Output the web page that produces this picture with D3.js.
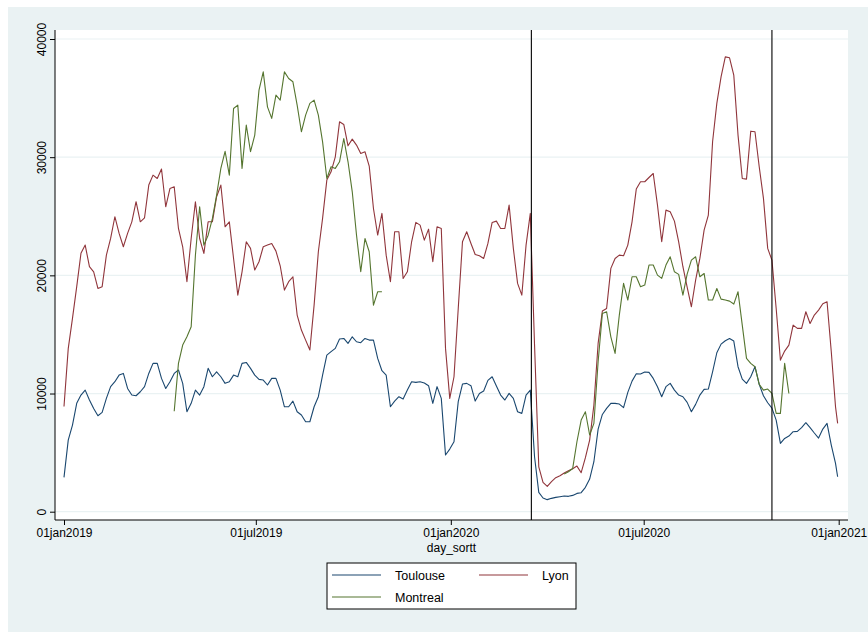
<!DOCTYPE html>
<html>
<head>
<meta charset="utf-8">
<script src="https://cdn.jsdelivr.net/npm/d3@7"></script>
<style>
  html, body { margin: 0; padding: 0; background: #ffffff; }
  svg { display: block; font-family: "Liberation Sans", Arial, Helvetica, sans-serif; }
</style>
</head>
<body>
<svg id="chart" width="868" height="632"></svg>
<script>
// Daily counts, sampled every fourth day from 01jan2019, last value on 31dec2020
const toulouse = [
  2900, 6060, 7330, 9170, 9870, 10290, 9450, 8740, 8120, 8400,
  9590, 10580, 11000, 11560, 11700, 10430, 9870, 9810, 10150, 10580,
  11700, 12550, 12550, 11280, 10430, 11000, 11700, 11990, 10860, 8460,
  9170, 10290, 9870, 10580, 12130, 11420, 11840, 11420, 10860, 11000,
  11560, 11420, 12550, 12630, 12130, 11560, 11200, 11140, 10720, 11280,
  11280, 10290, 8880, 8880, 9360, 8460, 8180, 7610, 7610, 8880,
  9730, 11560, 13250, 13540, 13820, 14610, 14660, 14240, 14800, 14380,
  14300, 14660, 14520, 14520, 12970, 11930, 11560, 8880, 9360, 9730,
  9530, 10290, 11000, 10940, 11000, 10890, 10660, 9170, 10580, 9590,
  4800, 5300, 5920, 9310, 10800, 10860, 10660, 9360, 10010, 10210,
  11110, 11420, 10630, 9870, 9450, 10010, 9590, 8460, 8320, 9870,
  10290, 4650, 1640, 1160, 1020, 1130, 1210, 1270, 1330, 1300,
  1380, 1550, 1610, 2060, 2760, 4230, 6990, 8230, 8740, 9170,
  9170, 9110, 8800, 10100, 11050, 11670, 11650, 11820, 11790, 11280,
  10580, 9730, 10580, 10860, 10290, 9870, 9730, 9250, 8460, 9080,
  9870, 10350, 10380, 11840, 13450, 14180, 14470, 14660, 14440, 12270,
  11220, 10860, 11420, 12270, 10770, 9810, 9220, 8770, 7750, 5780,
  6200, 6400, 6770, 6800, 7110, 7530, 7110, 6660, 6230, 6990,
  7470, 5640, 4090, 2960
];

const lyon = [
  8900, 13800, 16360, 19040, 21860, 22560, 20730, 20300, 18890, 19040,
  21710, 23120, 24960, 23550, 22420, 23550, 24530, 26230, 24530, 24870,
  27640, 28480, 28200, 29000, 25800, 27350, 27500, 23970, 22420, 19460,
  23120, 26230, 23120, 21860, 24530, 24530, 26650, 27640, 24110, 24530,
  21430, 18330, 20300, 22840, 22280, 20450, 21150, 22420, 22560, 22700,
  22050, 20810, 18750, 19460, 19880, 16640, 15370, 14520, 13680, 17480,
  22000, 24820, 28060, 28760, 30030, 32990, 32770, 30960, 31530, 31020,
  30320, 30460, 29250, 25660, 23410, 25240, 21710, 19460, 23690, 23690,
  19740, 20300, 22840, 24480, 24250, 22980, 23910, 21150, 24110, 23970,
  13820, 9590, 11420, 17200, 22840, 23690, 22700, 21770, 21660, 21430,
  22700, 24480, 24590, 23970, 23970, 25940, 22280, 19320, 18330, 22560,
  25240, 14100, 3800, 2480, 2140, 2540, 2880, 3050, 3270, 3470,
  3640, 3860, 3300, 4570, 6060, 9020, 14240, 16980, 17200, 20590,
  21430, 21710, 21660, 22560, 24530, 27300, 27920, 27920, 28280, 28620,
  25940, 22840, 25520, 25380, 24590, 22840, 20730, 19000, 17340, 19600,
  21430, 23830, 25100, 31300, 34550, 36800, 38490, 38410, 36940, 31870,
  28200, 28140, 32200, 32150, 29190, 26510, 22280, 21290, 17200, 12830,
  13590, 14100, 15790, 15510, 15510, 16920, 15930, 16640, 17060, 17600,
  17770, 13540, 8880, 7470
];

// null = no observation for that day
const montreal = [
  null, null, null, null, null, null, null, null, null, null,
  null, null, null, null, null, null, null, null, null, null,
  null, null, null, null, null, null, 8500, 12550, 14100, 14800,
  15650, 21700, 25800, 22560, 23400, 24800, 26790, 29050, 30500, 28480,
  34120, 34400, 29050, 32710, 30460, 31870, 35670, 37220, 34260, 33280,
  35250, 34830, 37220, 36660, 36380, 34400, 32150, 33560, 34550, 34830,
  33560, 31300, 28200, 29190, 29050, 29610, 31580, 29610, 27070, 23410,
  20300, 23120, 22000, 17480, 18610, 18610, null, null, null, null,
  null, null, null, null, null, null, null, null, null, null,
  null, null, null, null, null, null, null, null, null, null,
  null, null, null, null, null, null, null, null, null, null,
  null, null, null, null, null, null, null, null, 3200, 3380,
  3660, 5920, 7750, 8460, 6490, 7470, 12690, 16780, 16920, 14800,
  13400, 16640, 19320, 17910, 19880, 19880, 19040, 19180, 20870, 20870,
  20020, 19740, 20870, 21570, 20300, 20080, 18330, 20100, 21290, 21570,
  19880, 20160, 17910, 17910, 18890, 17990, 17910, 17820, 17570, 18610,
  15790, 12970, 12550, 12270, 10770, 10290, 10380, 10010, 8320, 8320,
  12550, 10000, null, null, null, null, null, null, null, null,
  null, null, null, null
];

const seriesNames = ["Toulouse", "Lyon", "Montreal"];
const seriesColors = ["#1a476f", "#90353b", "#55752f"];
const yTicks = [0, 10000, 20000, 30000, 40000];
const xTickDates = ["2019-01-01", "2019-07-01", "2020-01-01", "2020-07-01", "2021-01-01"];
const markerDates = ["2020-03-17", "2020-10-30"];
const xTitle = "day_sortt";

const parse = d3.utcParse("%Y-%m-%d");
const first = parse("2019-01-01");
const last = parse("2020-12-31");
const dates = d3.utcDay.range(first, last, 4);
dates.push(last);

const svg = d3.select("#chart");
const W = 868, H = 632;
const plot = { left: 55, right: 848, top: 30, bottom: 520 };

const x = d3.scaleUtc().domain([parse("2019-01-01"), parse("2021-01-01")]).range([64, 838.7]);
const y = d3.scaleLinear().domain([0, 40000]).range([511.7, 39]);

// graph region and plot region
svg.append("rect").attr("x", 8).attr("y", 7).attr("width", W - 8).attr("height", H - 7).attr("fill", "#eaf2f3");
svg.append("rect").attr("x", plot.left).attr("y", plot.top)
  .attr("width", plot.right - plot.left).attr("height", plot.bottom - plot.top).attr("fill", "#ffffff");

// horizontal grid
svg.append("g").selectAll("line").data(yTicks).join("line")
  .attr("x1", plot.left).attr("x2", plot.right)
  .attr("y1", d => y(d)).attr("y2", d => y(d))
  .attr("stroke", "#eaf2f3").attr("stroke-width", 1.2);

// series
const tables = [toulouse, lyon, montreal].map(vals => dates.map((d, i) => ({ date: d, v: vals[i] })));
const line = d3.line().defined(d => d.v != null).x(d => x(d.date)).y(d => y(d.v));
svg.append("g").selectAll("path").data(tables).join("path")
  .attr("d", line)
  .attr("fill", "none")
  .attr("stroke", (d, i) => seriesColors[i])
  .attr("stroke-width", 1.1)
  .attr("stroke-linejoin", "round");

// event lines
svg.append("g").selectAll("line").data(markerDates.map(parse)).join("line")
  .attr("x1", d => x(d)).attr("x2", d => x(d))
  .attr("y1", plot.top).attr("y2", plot.bottom)
  .attr("stroke", "#000").attr("stroke-width", 1.1);

// y axis
const yAxis = svg.append("g").attr("transform", `translate(${plot.left},0)`)
  .call(d3.axisLeft(y).tickValues(yTicks).tickSize(5).tickFormat(d3.format("d")));
yAxis.select(".domain").remove();
yAxis.selectAll(".tick line").attr("stroke", "#000");
yAxis.selectAll(".tick text")
  .attr("transform", "rotate(-90)")
  .attr("x", 0).attr("y", -9).attr("dy", 0)
  .attr("text-anchor", "middle")
  .attr("font-size", 12).attr("fill", "#000")
  .style("font-family", "'Liberation Sans', Arial, sans-serif");
svg.append("line").attr("x1", plot.left).attr("x2", plot.left)
  .attr("y1", plot.top).attr("y2", plot.bottom).attr("stroke", "#000").attr("stroke-width", 1);

// x axis
const fmt = d3.utcFormat("%d%b%Y");
const xAxis = svg.append("g").attr("transform", `translate(0,${plot.bottom})`)
  .call(d3.axisBottom(x).tickValues(xTickDates.map(parse)).tickSize(5).tickPadding(3)
    .tickFormat(d => fmt(d).toLowerCase()));
xAxis.select(".domain").remove();
xAxis.selectAll(".tick line").attr("stroke", "#000");
xAxis.selectAll(".tick text")
  .attr("font-size", 12).attr("fill", "#000")
  .style("font-family", "'Liberation Sans', Arial, sans-serif");
svg.append("line").attr("x1", plot.left).attr("x2", plot.right)
  .attr("y1", plot.bottom).attr("y2", plot.bottom).attr("stroke", "#000").attr("stroke-width", 1);

svg.append("text").attr("x", (plot.left + plot.right) / 2).attr("y", 552)
  .attr("text-anchor", "middle").attr("font-size", 12).attr("fill", "#000").text(xTitle);

// legend
const legend = svg.append("g");
legend.append("rect").attr("x", 327).attr("y", 563).attr("width", 249).attr("height", 46)
  .attr("fill", "#ffffff").attr("stroke", "#000").attr("stroke-width", 1);
const slots = [{ x: 332, y: 575 }, { x: 479, y: 575 }, { x: 332, y: 597 }];
seriesNames.forEach((name, i) => {
  const s = slots[i];
  legend.append("line").attr("x1", s.x).attr("x2", s.x + 49).attr("y1", s.y).attr("y2", s.y)
    .attr("stroke", seriesColors[i]).attr("stroke-width", 1.1);
  legend.append("text").attr("x", s.x + 63).attr("y", s.y + 4.5)
    .attr("font-size", 12.5).attr("fill", "#000").text(name);
});
</script>
</body>
</html>
